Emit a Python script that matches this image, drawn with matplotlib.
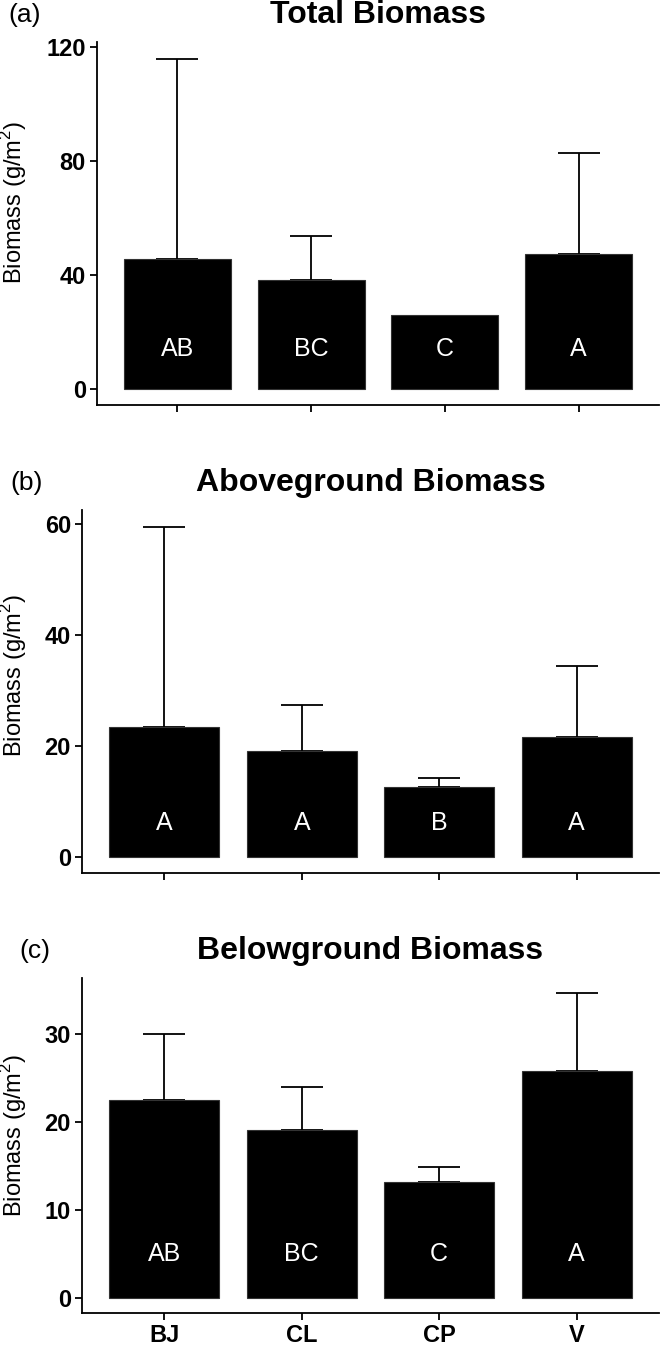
import matplotlib.pyplot as plt
import numpy as np

plt.rcParams['font.family'] = ['Liberation Sans', 'DejaVu Sans']
plt.rcParams['mathtext.fontset'] = 'custom'
plt.rcParams['mathtext.rm'] = 'Liberation Sans'

# data
sites = ['BJ', 'CL', 'CP', 'V']

total_mean = [45.6, 38.0, 25.7, 47.1]
total_upper = [115.8, 53.4, 25.7, 82.5]
total_letters = ['AB', 'BC', 'C', 'A']

above_mean = [23.3, 19.1, 12.6, 21.6]
above_upper = [59.5, 27.3, 14.1, 34.4]
above_letters = ['A', 'A', 'B', 'A']

below_mean = [22.5, 19.1, 13.2, 25.8]
below_upper = [30.0, 24.0, 14.9, 34.7]
below_letters = ['AB', 'BC', 'C', 'A']

W, H = 662, 1346
fig = plt.figure(figsize=(W / 100, H / 100), dpi=100)

panels = [
    # tag, title, means, uppers, letters, yticks, letter y,
    # (left, top, right, bottom) px, tag x px, ylabel centre px
    ('(a)', 'Total Biomass', total_mean, total_upper, total_letters,
     [0, 40, 80, 120], 14, (97, 42, 659, 405), 8, 202),
    ('(b)', 'Aboveground Biomass', above_mean, above_upper, above_letters,
     [0, 20, 40, 60], 6, (82, 510, 659, 873), 10, 675),
    ('(c)', 'Belowground Biomass', below_mean, below_upper, below_letters,
     [0, 10, 20, 30], 5, (82, 978, 659, 1313), 19, 1135),
]

x = np.arange(1, len(sites) + 1)

for i, (tag, title, mean, upper, letters, yticks, ly, (l, t, r, b), tagx, yl) in enumerate(panels):
    ax = fig.add_axes([l / W, 1 - b / H, (r - l) / W, (b - t) / H])
    mean = np.array(mean)
    upper = np.array(upper)
    err = upper - mean

    has_err = err > 0
    ax.errorbar(x[has_err], mean[has_err],
                yerr=[np.zeros(has_err.sum()), err[has_err]],
                fmt='none', ecolor='black', elinewidth=1.3,
                capsize=15, capthick=1.3, zorder=1)
    ax.bar(x, mean, width=0.8, color='black', edgecolor='#333333',
           linewidth=0.8, zorder=2)
    for xi, lab in zip(x, letters):
        ax.text(xi, ly, lab, color='white', ha='center', va='center',
                fontsize=18, zorder=3)

    top = upper.max()
    pad = top * 0.05
    ax.set_ylim(-pad, top + pad)
    ax.set_xlim(0.4, 4.6)
    ax.set_yticks(yticks)
    ax.set_xticks(x)
    if i == 2:
        ax.set_xticklabels(sites, fontsize=17, fontweight='bold')
    else:
        ax.set_xticklabels([])
    for lbl in ax.get_yticklabels():
        lbl.set_fontsize(17)
        lbl.set_fontweight('bold')

    for s in ['top', 'right']:
        ax.spines[s].set_visible(False)
    for s in ['left', 'bottom']:
        ax.spines[s].set_linewidth(1.3)
    ax.tick_params(axis='both', length=5, width=1.3, color='black',
                   labelcolor='black', pad=3)

    ax.annotate(title, xy=(0.5, 1), xycoords='axes fraction',
                xytext=(0, 27 * 0.72), textcoords='offset points',
                ha='center', va='center', fontsize=23, fontweight='bold')
    fig.text(tagx / W, 1 - (t - 27) / H, tag, ha='left', va='center',
             fontsize=19)
    fig.text(14 / W, 1 - yl / H, r'Biomass (g/m$^{\mathrm{2}}$)',
             rotation=90, ha='center', va='center', fontsize=17)

fig.savefig('out.png', dpi=100)
